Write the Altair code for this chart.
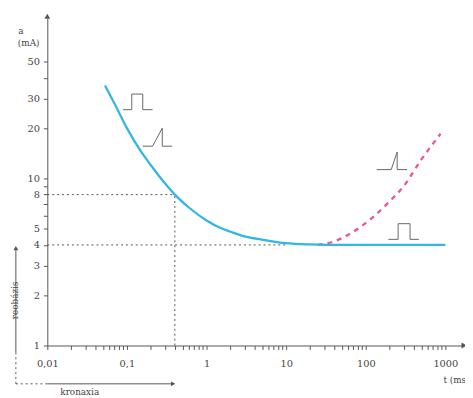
import altair as alt
import pandas as pd

# ---- data ----
t_rect = [0.053, 0.07, 0.1, 0.15, 0.2, 0.3, 0.4, 0.6, 1, 1.5, 2, 3, 5, 8, 10, 20, 50, 100, 300, 1000]
a_rect = [36, 28, 20, 14.5, 12, 9.35, 8, 6.7, 5.6, 5.05, 4.8, 4.5, 4.3, 4.15, 4.1, 4.03, 4, 4, 4, 4]

t_ramp = [25, 40, 70, 120, 200, 300, 500, 870]
a_ramp = [4, 4.2, 4.8, 5.8, 7.3, 9, 13, 18.5]

chronaxie = 0.4
rheobase = 4
double_rheobase = 8
t_start = 0.01
t_flat = 10

x_label_values = [0.01, 0.1, 1, 10, 100, 1000]
x_label_texts = ["0,01", "0,1", "1", "10", "100", "1000"]
y_tick_values = [1, 2, 3, 4, 5, 6, 7, 8, 9, 10, 20, 30, 40, 50]
y_label_values = [1, 2, 3, 4, 5, 8, 10, 20, 30, 50]

# pulse-shape icons (data coordinates)
sq1_t = [0.089, 0.115, 0.115, 0.158, 0.158, 0.21]
sq1_a = [25.8, 25.8, 32, 32, 25.8, 25.8]
rp1_t = [0.158, 0.21, 0.278, 0.278, 0.37]
rp1_a = [15.6, 15.6, 20, 15.6, 15.6]
rp2_t = [137, 209, 248, 248, 330]
rp2_a = [11.3, 11.3, 14.4, 11.3, 11.3]
sq2_t = [192, 255, 255, 360, 360, 465]
sq2_a = [4.32, 4.32, 5.36, 5.36, 4.32, 4.32]

FONT = "DejaVu Serif"
AX = "#555555"
TXT = "#444444"

x_ticks = [round(m * 10.0 ** e, 4) for e in range(-2, 4) for m in range(1, 10) if m * 10.0 ** e <= 1000]

def label_expr(values, texts):
    expr = "''"
    for v, s in reversed(list(zip(values, texts))):
        expr = f"datum.value == {v} ? '{s}' : ({expr})"
    return expr

xscale = alt.Scale(type="log", domain=[0.01, 1620], nice=False)
yscale = alt.Scale(type="log", domain=[1, 91], nice=False)

axis_common = dict(grid=False, title=None, domainColor=AX, tickColor=AX, tickSize=4,
                   labelFont=FONT, labelFontSize=10, labelColor=TXT, labelOverlap=False,
                   labelFlush=False)

xaxis = alt.Axis(values=x_ticks, labelExpr=label_expr(x_label_values, x_label_texts),
                 labelPadding=9, **axis_common)
yaxis = alt.Axis(values=y_tick_values,
                 labelExpr=label_expr(y_label_values, [str(v) for v in y_label_values]),
                 labelPadding=4, **axis_common)

df_rect = pd.DataFrame({"t": t_rect, "a": a_rect})
df_ramp = pd.DataFrame({"t": t_ramp, "a": a_ramp})

rect_line = alt.Chart(df_rect).mark_line(color="#33b5e6", strokeWidth=2.3, interpolate="monotone").encode(
    x=alt.X("t:Q", scale=xscale, axis=xaxis),
    y=alt.Y("a:Q", scale=yscale, axis=yaxis),
)
ramp_line = alt.Chart(df_ramp).mark_line(color="#e8559a", strokeWidth=2.3, strokeDash=[5, 5],
                                         interpolate="monotone").encode(
    x=alt.X("t:Q", scale=xscale), y=alt.Y("a:Q", scale=yscale))

# dotted guides
guides = pd.DataFrame({
    "t1": [t_start, chronaxie, t_start],
    "t2": [chronaxie, chronaxie, t_flat],
    "a1": [double_rheobase, 1, rheobase],
    "a2": [double_rheobase, double_rheobase, rheobase],
})
guide_rules = alt.Chart(guides).mark_rule(color=AX, strokeWidth=1, strokeDash=[2, 3]).encode(
    x=alt.X("t1:Q", scale=xscale), x2="t2:Q",
    y=alt.Y("a1:Q", scale=yscale), y2="a2:Q")

icon_rows = []
for name, ts, as_ in [("sq1", sq1_t, sq1_a), ("rp1", rp1_t, rp1_a), ("rp2", rp2_t, rp2_a), ("sq2", sq2_t, sq2_a)]:
    for i, (tt, aa) in enumerate(zip(ts, as_)):
        icon_rows.append({"icon": name, "i": i, "t": tt, "a": aa})
icons = alt.Chart(pd.DataFrame(icon_rows)).mark_line(color="#666666", strokeWidth=1).encode(
    x=alt.X("t:Q", scale=xscale), y=alt.Y("a:Q", scale=yscale),
    detail="icon:N", order="i:Q")

one = pd.DataFrame({"k": [0]})

def rule(x, x2, y, y2, dash=None):
    kw = dict(color=AX, strokeWidth=1)
    if dash:
        kw["strokeDash"] = dash
    return alt.Chart(one).mark_rule(**kw).encode(
        x=alt.value(x), x2=alt.value(x2), y=alt.value(y), y2=alt.value(y2))

def arrow(shape, x, y, size=35):
    return alt.Chart(one).mark_point(shape=shape, filled=True, size=size, color=AX, opacity=1).encode(
        x=alt.value(x), y=alt.value(y))

def text(s, x, y, angle=0, align="center", baseline="middle", size=10):
    kw = dict(font=FONT, fontSize=size, color=TXT, align=align, baseline=baseline, text=s)
    if angle:
        kw["angle"] = angle
    return alt.Chart(one).mark_text(**kw).encode(x=alt.value(x), y=alt.value(y))

deco = [
    arrow("triangle-up", 0, -2),
    arrow("triangle-right", 424, 333),
    rule(-32, -32, 236, 340),
    rule(-32, -32, 340, 372, [2, 3]),
    rule(-32, 0, 372, 372, [2, 3]),
    rule(0, 126, 372, 372),
    arrow("triangle-up", -32, 234, 25),
    arrow("triangle-right", 128, 372, 25),
    text("a", -27, 13, size=9),
    text("(mA)", -19, 25, size=9),
    text("t (ms)", 403, 368, align="left", size=9),
    text("reobázis", -33, 287, angle=270, size=9),
    text("kronaxia", 33, 376, baseline="top", size=9),
]

chart = alt.layer(guide_rules, icons, ramp_line, rect_line, *deco).properties(
    width=422, height=333,
    padding={"left": 40, "top": 7, "right": 3, "bottom": 50},
    autosize=alt.AutoSizeParams(type="none"),
).configure_view(stroke=None)

chart.save("out.html", embed_options={"renderer": "svg", "actions": False})
